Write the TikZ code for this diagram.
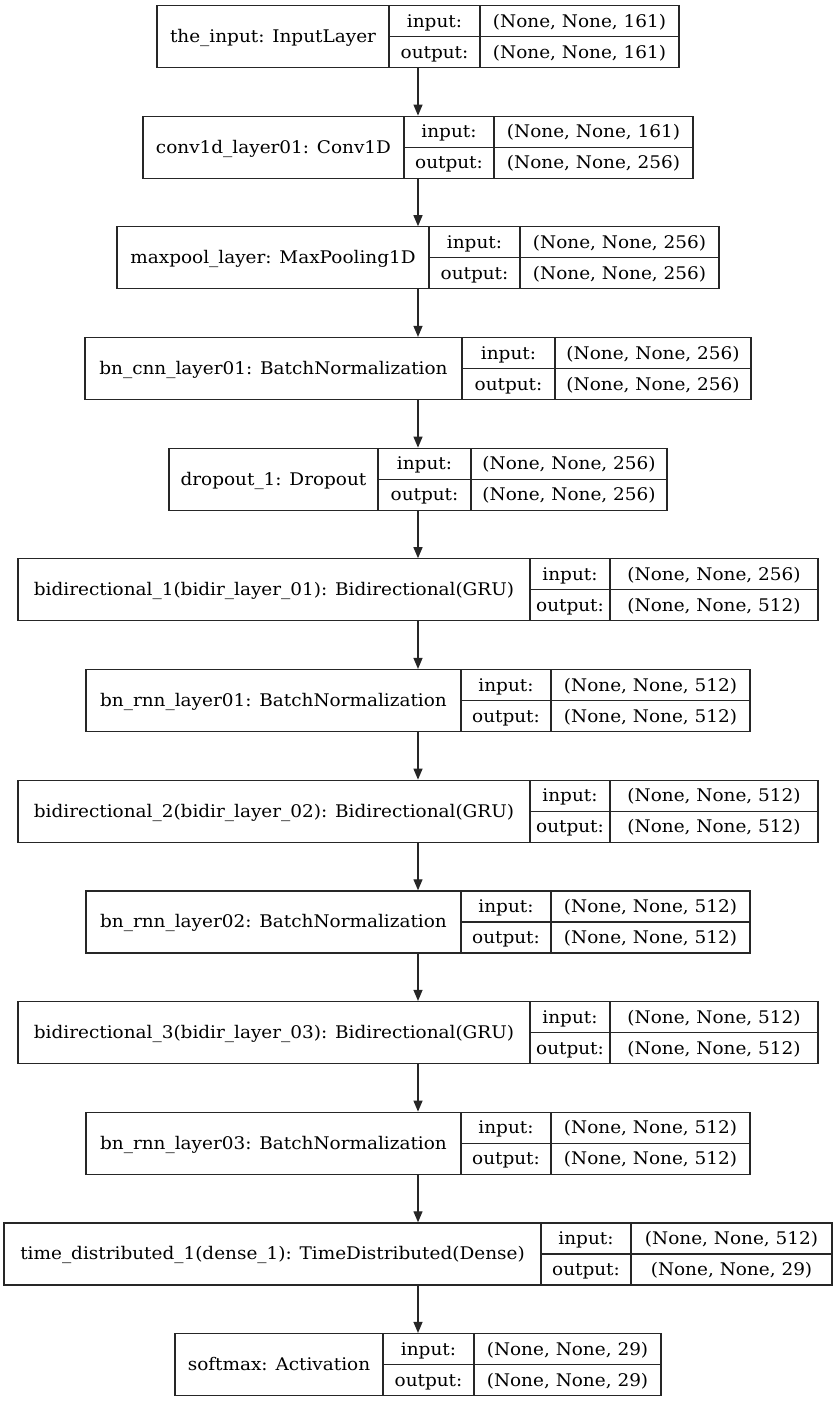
\documentclass[tikz,border=0pt]{standalone}
\usepackage{fontspec}
\setmainfont{DejaVu Serif}[FakeStretch=1.06]
\usetikzlibrary{arrows.meta,fit}
\tikzset{
  lbox/.style={draw=black!85, line width=1.2pt, inner sep=0pt},
  cell/.style={line width=1.2pt, draw=black!85},
  txt/.style={inner sep=0pt, font=\fontsize{17.4}{19}\selectfont, anchor=base},
  conn/.style={draw=black!85, line width=1.2pt, -{Triangle[length=11pt,width=9pt]}}
}
% #1 name, #2 top, #3 xL, #4 x1, #5 x2, #6 xR, #7 label, #8 in shape, #9 out shape
\newcommand\layerbox[9]{%
  \node[lbox, fit={(#3,#2) (#6,#2+62)}] (#1) {};
  \draw[cell] (#4,#2) -- (#4,#2+62);
  \draw[cell] (#5,#2) -- (#5,#2+62);
  \draw[cell] (#4,#2+31) -- (#6,#2+31);
  \node[txt] (#1-l) at ({(#3+#4)/2},#2+37) {#7};
  \node[txt] (#1-i) at ({(#4+#5)/2},#2+21.5) {input:};
  \node[txt] (#1-o) at ({(#4+#5)/2},#2+52.5) {output:};
  \node[txt] (#1-is) at ({(#5+#6)/2},#2+21.5) {#8};
  \node[txt] (#1-os) at ({(#5+#6)/2},#2+52.5) {#9};
}
\begin{document}
\begin{tikzpicture}[x=1pt,y=-1pt]
\useasboundingbox[fill=white] (0,0) rectangle (836,1401);
\layerbox{a}{5.5}{157}{389}{480}{679}{the\_input: InputLayer}{(None, None, 161)}{(None, None, 161)}
\layerbox{b}{116.2}{143}{404}{494}{693}{conv1d\_layer01: Conv1D}{(None, None, 161)}{(None, None, 256)}
\layerbox{c}{226.8}{117}{429}{520}{719}{maxpool\_layer: MaxPooling1D}{(None, None, 256)}{(None, None, 256)}
\layerbox{d}{337.5}{85}{462}{555}{751}{bn\_cnn\_layer01: BatchNormalization}{(None, None, 256)}{(None, None, 256)}
\layerbox{e}{448.2}{169}{378}{471}{667}{dropout\_1: Dropout}{(None, None, 256)}{(None, None, 256)}
\layerbox{f}{558.8}{18}{530}{610}{818}{bidirectional\_1(bidir\_layer\_01): Bidirectional(GRU)}{(None, None, 256)}{(None, None, 512)}
\layerbox{g}{669.5}{86}{461}{551}{750}{bn\_rnn\_layer01: BatchNormalization}{(None, None, 512)}{(None, None, 512)}
\layerbox{h}{780.2}{18}{530}{610}{818}{bidirectional\_2(bidir\_layer\_02): Bidirectional(GRU)}{(None, None, 512)}{(None, None, 512)}
\layerbox{i}{890.9}{86}{461}{551}{750}{bn\_rnn\_layer02: BatchNormalization}{(None, None, 512)}{(None, None, 512)}
\layerbox{j}{1001.5}{18}{530}{610}{818}{bidirectional\_3(bidir\_layer\_03): Bidirectional(GRU)}{(None, None, 512)}{(None, None, 512)}
\layerbox{k}{1112.2}{86}{461}{551}{750}{bn\_rnn\_layer03: BatchNormalization}{(None, None, 512)}{(None, None, 512)}
\layerbox{l}{1222.9}{4}{541}{631}{832}{time\_distributed\_1(dense\_1): TimeDistributed(Dense)}{(None, None, 512)}{(None, None, 29)}
\layerbox{m}{1333.5}{175}{383}{474}{661}{softmax: Activation}{(None, None, 29)}{(None, None, 29)}
\foreach \p/\q in {a/b,b/c,c/d,d/e,e/f,f/g,g/h,h/i,i/j,j/k,k/l,l/m}
  \draw[conn] (\p) -- (\q);
\end{tikzpicture}
\end{document}
